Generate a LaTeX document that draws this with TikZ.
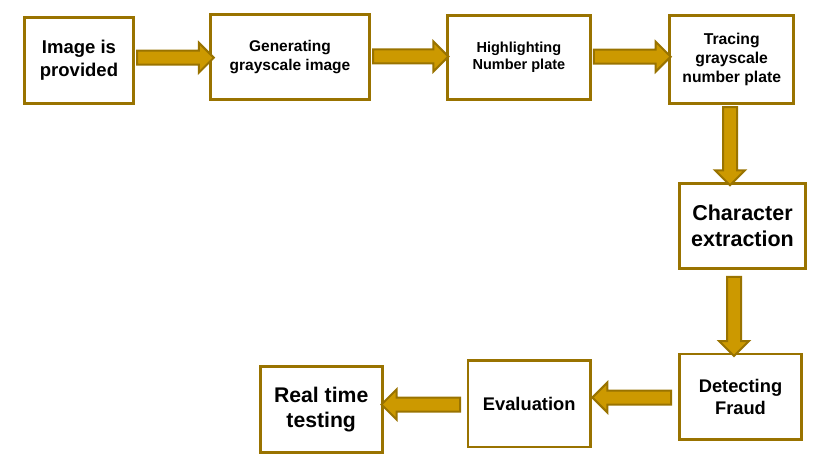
\documentclass[tikz,border=0pt]{standalone}
\usepackage{fontspec}
\setmainfont{Liberation Sans}
\usetikzlibrary{shapes.arrows,calc}
\definecolor{edgecol}{HTML}{997300}
\definecolor{goldcol}{HTML}{CC9900}
\tikzset{
  box/.style={draw=edgecol, line width=2.8pt, fill=white, align=center, inner sep=0pt},
  fatarrow/.style={single arrow, draw=edgecol, fill=goldcol, line width=2pt,
    inner sep=6pt, minimum width=28pt,
    single arrow head extend=8pt, single arrow head indent=0pt},
}
\newcommand{\fsz}[1]{\fontsize{#1}{1.2\dimexpr #1pt\relax}\selectfont\bfseries}
\newcommand{\fatarr}[4]{%
  \path let \p1=(#1), \p2=(#2), \n1={veclen(\x2-\x1,\y2-\y1)} in
    node[fatarrow, minimum height=\n1, shape border rotate=#3] (#4) at ($(\p1)!0.5!(\p2)$) {};}
\begin{document}
\begin{tikzpicture}[x=1pt,y=-1pt]
\useasboundingbox (0,0) rectangle (827,462);
\node[box, minimum width=109.6pt, minimum height=86pt, font=\fsz{18.5}] (b1) at (79,60.2) {Image is\\provided};
\node[box, minimum width=159.6pt, minimum height=85pt, font=\fsz{15.5}] (b2) at (290,57) {Generating\\grayscale image};
\node[box, minimum width=143.3pt, minimum height=84.6pt, font=\fsz{14.5}] (b3) at (518.9,57.5) {Highlighting\\Number plate};
\node[box, minimum width=124.2pt, minimum height=88.5pt, font=\fsz{15.7}] (b4) at (731.7,59.5) {Tracing\\grayscale\\number plate};
\node[box, minimum width=126pt, minimum height=85.2pt, font=\fsz{21.5}] (b5) at (742.5,225.8) {Character\\extraction};
\node[box, minimum width=122pt, minimum height=85.5pt, font=\fsz{18.3}] (b6) at (740.5,396.7) {Detecting\\Fraud};
\node[box, minimum width=122.5pt, minimum height=86.5pt, font=\fsz{18.3}] (b7) at (529.2,403.8) {Evaluation};
\node[box, minimum width=121.8pt, minimum height=86.5pt, font=\fsz{21.2}] (b8) at (321.2,409.5) {Real time\\testing};

\coordinate (a1s) at ([xshift=-1.5pt]b1.east |- 0,57.7);
\coordinate (a1e) at ([xshift=1.5pt]b2.west |- 0,57.7);
\coordinate (a2s) at ([xshift=-1.5pt]b2.east |- 0,56.5);
\coordinate (a2e) at ([xshift=-1pt]b3.west |- 0,56.5);
\coordinate (a3s) at ([xshift=-1.5pt]b3.east |- 0,56.7);
\coordinate (a3e) at ([xshift=-1pt]b4.west |- 0,56.7);
\coordinate (a4s) at ([yshift=1.5pt]b4.south -| 730,0);
\coordinate (a4e) at (b5.north -| 730,0);
\coordinate (a5s) at ([yshift=-3.5pt]b5.south -| 734,0);
\coordinate (a5e) at (b6.north -| 734,0);
\coordinate (a6s) at ([xshift=-3.5pt]b6.west |- 0,397.5);
\coordinate (a6e) at ([xshift=4pt]b7.east |- 0,397.5);
\coordinate (a7s) at ([xshift=-3pt]b7.west |- 0,404.5);
\coordinate (a7e) at ([xshift=1.5pt]b8.east |- 0,404.5);

\fatarr{a1s}{a1e}{0}{ar1}
\fatarr{a2s}{a2e}{0}{ar2}
\fatarr{a3s}{a3e}{0}{ar3}
\fatarr{a4s}{a4e}{270}{ar4}
\fatarr{a5s}{a5e}{270}{ar5}
\fatarr{a6s}{a6e}{180}{ar6}
\fatarr{a7s}{a7e}{180}{ar7}
\end{tikzpicture}
\end{document}
